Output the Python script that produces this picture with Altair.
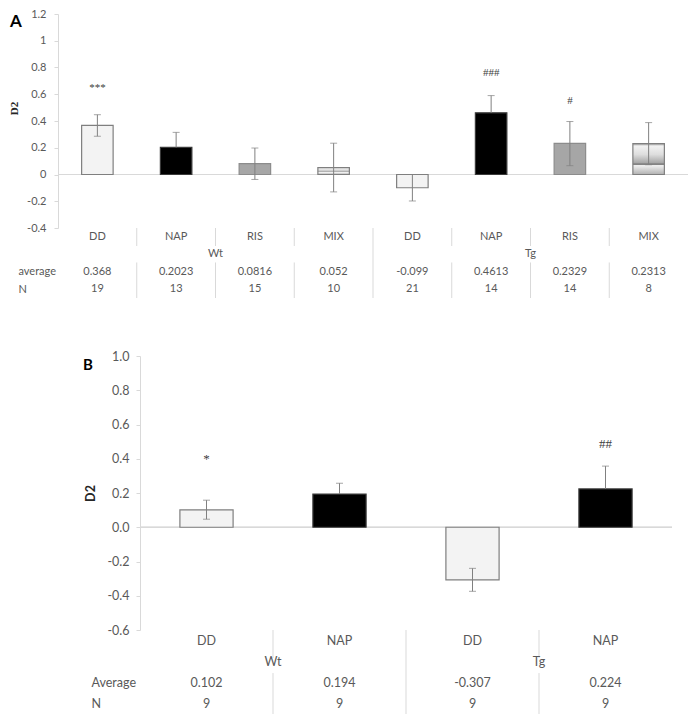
import altair as alt
import pandas as pd

FONT = "Lato"
SERIF = "Liberation Serif"
TXT = "#595959"
LINE = "#d9d9d9"
ERR = "#808080"

genotypes = ["Wt", "Tg"]

# ---------------- Panel A ----------------
treat_A = ["DD", "NAP", "RIS", "MIX"]
avg_A = [0.368, 0.2023, 0.0816, 0.052, -0.099, 0.4613, 0.2329, 0.2313]
n_A = [19, 13, 15, 10, 21, 14, 14, 8]
err_lo_A = [0.286, None, -0.037, -0.13, -0.198, None, 0.066, 0.073]
err_hi_A = [0.447, 0.315, 0.198, 0.234, 0.0, 0.59, 0.396, 0.388]
sig_A = ["***", "", "", "", "", "###", "#", ""]
sig_y_A = [0.65, None, None, None, None, 0.76, 0.55, None]
ticks_A = [-0.4, -0.2, 0, 0.2, 0.4, 0.6, 0.8, 1, 1.2]

# ---------------- Panel B ----------------
treat_B = ["DD", "NAP"]
avg_B = [0.102, 0.194, -0.307, 0.224]
n_B = [9, 9, 9, 9]
err_lo_B = [0.047, None, -0.374, None]
err_hi_B = [0.158, 0.257, -0.24, 0.357]
sig_B = ["*", "", "", "##"]
sig_y_B = [0.40, None, None, 0.485]
ticks_B = [-0.6, -0.4, -0.2, 0.0, 0.2, 0.4, 0.6, 0.8, 1.0]

MIX_GRAD = alt.LinearGradient(
    gradient="linear", x1=0, x2=0, y1=0, y2=1,
    stops=[
        alt.GradientStop(color="#9a9a9a", offset=0.0),
        alt.GradientStop(color="#f2f2f2", offset=0.08),
        alt.GradientStop(color="#dedede", offset=0.35),
        alt.GradientStop(color="#a8a8a8", offset=0.62),
        alt.GradientStop(color="#6e6e6e", offset=0.67),
        alt.GradientStop(color="#f0f0f0", offset=0.71),
        alt.GradientStop(color="#b0b0b0", offset=1.0),
    ],
)
STYLE = {
    "DD": ("#f3f3f3", "#7f7f7f"),
    "NAP": ("#000000", "#3a3a3a"),
    "RIS": ("#a6a6a6", "#8c8c8c"),
    "MIX": (MIX_GRAD, "#7f7f7f"),
}


def make_panel(letter, treats, avg, n, lo, hi, sig, sig_y, ticks, c):
    keys = [f"{g} {t}" for g in genotypes for t in treats]
    treat_of = [t for g in genotypes for t in treats]
    df = pd.DataFrame({
        "key": keys, "treat": treat_of, "avg": avg, "zero": 0.0,
        "lo": [l if l is not None else a for l, a in zip(lo, avg)],
        "hi": hi,
    })
    cap_rows = []
    for k, l, h in zip(keys, lo, hi):
        cap_rows.append({"key": k, "v": h})
        if l is not None:
            cap_rows.append({"key": k, "v": l})
    df_caps = pd.DataFrame(cap_rows)
    df_sig = pd.DataFrame([{"key": k, "s": s, "y": y}
                           for k, s, y in zip(keys, sig, sig_y) if s])

    xb = alt.X("key:N", scale=alt.Scale(domain=keys, paddingInner=0.6, paddingOuter=0.3), axis=None)
    yscale = alt.Scale(domain=[ticks[0], ticks[-1]], nice=False, zero=False)
    yaxis = alt.Axis(
        values=ticks, title="D2", labelExpr=c["fmt"], grid=False,
        domainColor=LINE, tickColor=LINE, tickSize=4, labelPadding=c["lpad"],
        labelColor=TXT, labelFont=FONT, labelFontSize=c["fs"],
        titleFont=c["tfont"], titleFontSize=c["tfs"], titleFontWeight="bold",
        titleColor="#262626", titleX=c["tx"], titleY=c["ty"],
        titleAlign="center", titleBaseline="middle", titleAngle=270,
    )

    def Y(field):
        return alt.Y(f"{field}:Q", scale=yscale, axis=yaxis)

    base = alt.Chart(df)
    zero = base.mark_rule(color=LINE, strokeWidth=1).encode(y=Y("zero"))
    bars = []
    for t in treats:
        f, s = STYLE[t]
        bars.append(
            base.transform_filter(alt.datum.treat == t)
            .mark_bar(fill=f, stroke=s, strokeWidth=1.2)
            .encode(x=xb, y=Y("avg"), y2=alt.Y2("zero"))
        )
    err = base.mark_rule(color=ERR, strokeWidth=1).encode(x=xb, y=Y("lo"), y2=alt.Y2("hi"))
    caps = alt.Chart(df_caps).mark_tick(color=ERR, thickness=1, size=7, orient="horizontal").encode(
        x=xb, y=Y("v"))
    sigt = alt.Chart(df_sig).mark_text(color="#404040", font=SERIF, fontSize=c["sfs"],
                                       baseline="middle").encode(x=xb, y=Y("y"), text="s:N")
    lab = alt.Chart(pd.DataFrame({"t": [letter]})).mark_text(
        align="left", baseline="middle", fontWeight="bold", fontSize=c["lfs"],
        font=FONT, color="#000000").encode(
        x=alt.value(c["lx"]), y=alt.value(c["ly"]), text="t:N")

    bars_chart = alt.layer(zero, *bars, err, caps, sigt, lab).properties(
        width=c["w"], height=c["h"])

    # ---- table below ----
    cells = []
    for k, t, a, nn in zip(keys, treat_of, avg, n):
        cells.append({"key": k, "row": 0.5, "text": t})
        cells.append({"key": k, "row": 2.5, "text": str(a)})
        cells.append({"key": k, "row": 3.5, "text": str(nn)})
    df_cells = pd.DataFrame(cells)
    m = len(treats)
    df_grp = pd.DataFrame([{"key": keys[i * m + m // 2], "row": 1.5, "text": g}
                           for i, g in enumerate(genotypes)])
    seps = []
    for i in range(1, len(keys)):
        if i % m == 0:
            seps.append({"key": keys[i], "y1": 0, "y2": 4})
        else:
            seps.append({"key": keys[i], "y1": 0, "y2": c["s1"]})
            seps.append({"key": keys[i], "y1": c["s2"], "y2": c["s3"]})
    df_seps = pd.DataFrame(seps)

    tscale = alt.Scale(domain=keys, paddingInner=0, paddingOuter=0)
    xt = alt.X("key:N", scale=tscale, axis=None)
    xt0 = alt.X("key:N", scale=tscale, axis=None, bandPosition=0)
    ytscale = alt.Scale(domain=[0, 4], reverse=True, nice=False, zero=False)
    ytaxis = alt.Axis(
        values=[2.5, 3.5], labelExpr=f"datum.value == 2.5 ? '{c['rowlab']}' : 'N'",
        domain=False, ticks=False, tickSize=0, grid=False, labelAlign="left",
        labelBaseline="middle", labelPadding=c["rpad"], labelColor=TXT,
        labelFont=FONT, labelFontSize=c["tbfs"], title=None,
    )

    def YT(field):
        return alt.Y(f"{field}:Q", scale=ytscale, axis=ytaxis)

    sep_l = alt.Chart(df_seps).mark_rule(color=LINE, strokeWidth=1).encode(
        x=xt0, y=YT("y1"), y2=alt.Y2("y2"))
    cell_l = alt.Chart(df_cells).mark_text(color=TXT, font=FONT, fontSize=c["tbfs"],
                                           baseline="middle").encode(
        x=xt, y=YT("row"), text="text:N")
    grp_l = alt.Chart(df_grp).mark_text(color=TXT, font=FONT, fontSize=c["tbfs"],
                                        baseline="middle").encode(
        x=xt0, y=YT("row"), text="text:N")
    table = alt.layer(sep_l, cell_l, grp_l).properties(width=c["w"], height=c["th"])

    return alt.vconcat(bars_chart, table, spacing=0, bounds="flush").resolve_scale(
        x="independent", y="independent")


cfg_A = dict(
    w=630, h=214, th=70, fs=11, lpad=8, fmt="toString(round(datum.value*10)/10)",
    tfont=SERIF, tfs=11, tx=-44, ty=94, sfs=11, lfs=17, lx=-48, ly=8,
    s1=1.03, s2=1.97, s3=4, rowlab="average", rpad=40, tbfs=11,
)
cfg_B = dict(
    w=532, h=274, th=84, fs=12.5, lpad=7,
    fmt="(datum.value < -0.001 ? '-' : '') + format(abs(datum.value), '.1f')",
    tfont=FONT, tfs=12.5, tx=-50, ty=137, sfs=13, lfs=15, lx=-57, ly=9,
    s1=1.33, s2=2.05, s3=4, rowlab="Average", rpad=49, tbfs=12.5,
)

panel_A = make_panel("A", treat_A, avg_A, n_A, err_lo_A, err_hi_A, sig_A, sig_y_A, ticks_A, cfg_A)
panel_B = make_panel("B", treat_B, avg_B, n_B, err_lo_B, err_hi_B, sig_B, sig_y_B, ticks_B, cfg_B)

spacer = alt.Chart(pd.DataFrame({"a": [0]})).mark_point(opacity=0).encode(
    x=alt.value(0), y=alt.value(0)).properties(width=82, height=10)
row_B = alt.hconcat(spacer, panel_B, spacing=0, bounds="flush").resolve_scale(
    x="independent", y="independent")

chart = alt.vconcat(panel_A, row_B, spacing=51).resolve_scale(
    x="independent", y="independent").properties(padding=0).configure_view(stroke=None)

chart.save("out.html", embed_options={"renderer": "svg", "actions": False})
